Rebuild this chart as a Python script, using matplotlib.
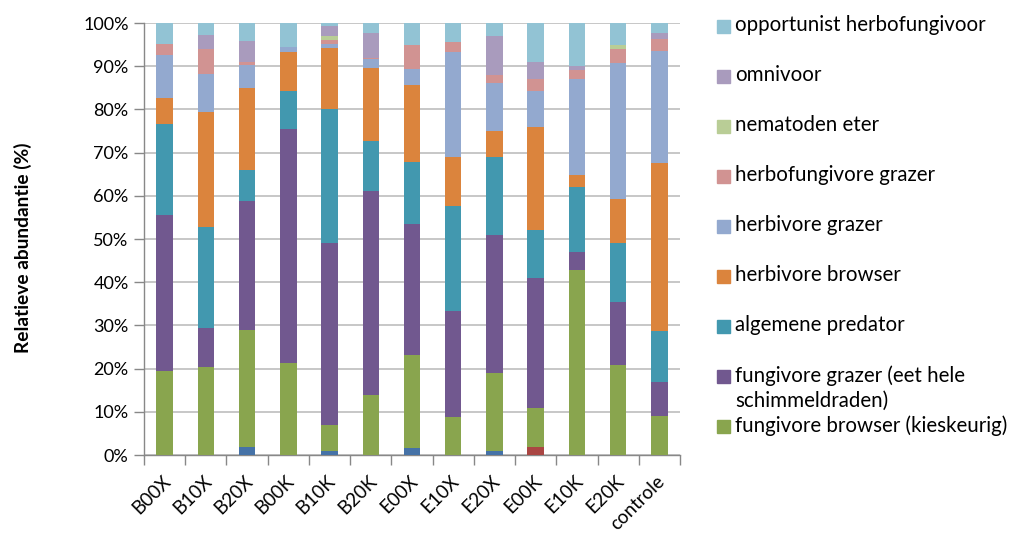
import matplotlib
matplotlib.use("Agg")
import matplotlib.pyplot as plt
from matplotlib.patches import Rectangle
from matplotlib.transforms import ScaledTranslation
import numpy as np

plt.rcParams['font.family'] = ['Lato', 'DejaVu Sans']

categories = ["B00X", "B10X", "B20X", "B00K", "B10K", "B20K", "E00X", "E10X",
              "E20X", "E00K", "E10K", "E20K", "controle"]

# segment values (% of total), bottom to top
onbekend_1 = [0, 0, 1.85, 0, 0.9, 0, 1.7, 0, 0.9, 0, 0, 0, 0]
onbekend_2 = [0, 0, 0, 0, 0, 0, 0, 0, 0, 1.85, 0, 0, 0]
fungivore_browser = [19.5, 20.4, 27.15, 21.2, 6.0, 13.9, 21.4, 8.8, 18.0, 8.95, 42.9, 20.8, 9.0]
fungivore_grazer = [36.1, 8.9, 29.9, 54.2, 42.1, 47.3, 30.4, 24.6, 32.1, 30.2, 4.2, 14.6, 7.9]
algemene_predator = [21.0, 23.5, 7.1, 8.9, 31.0, 11.6, 14.4, 24.3, 18.0, 11.1, 14.9, 13.6, 11.7]
herbivore_browser = [6.0, 26.7, 18.9, 9.1, 14.1, 16.7, 17.8, 11.3, 6.0, 23.9, 2.9, 10.3, 38.9]
herbivore_grazer = [10.0, 8.8, 5.3, 1.1, 1.1, 2.2, 3.7, 24.4, 11.1, 8.2, 22.1, 31.5, 26.0]
herbofungivore_grazer = [2.5, 5.7, 0.8, 0, 0.8, 0.2, 5.4, 2.1, 1.9, 2.8, 2.1, 3.1, 2.7]
nematoden_eter = [0, 0, 0, 0, 1.1, 0, 0, 0, 0, 0, 0, 1.1, 0]
omnivoor = [0, 3.2, 4.9, 0, 2.1, 5.8, 0, 0, 9.1, 4.0, 1.0, 0, 1.4]
opportunist_herbofungivoor = [4.9, 2.8, 4.1, 5.5, 0.8, 2.3, 5.2, 4.5, 2.9, 9.0, 9.9, 5.0, 2.4]

series = [
    (None, onbekend_1, "#4572A7"),
    (None, onbekend_2, "#AA4643"),
    ("fungivore browser (kieskeurig)", fungivore_browser, "#89A54E"),
    ("fungivore grazer (eet hele\nschimmeldraden)", fungivore_grazer, "#71588F"),
    ("algemene predator", algemene_predator, "#4298AF"),
    ("herbivore browser", herbivore_browser, "#DB843D"),
    ("herbivore grazer", herbivore_grazer, "#93A9CF"),
    ("herbofungivore grazer", herbofungivore_grazer, "#D19392"),
    ("nematoden eter", nematoden_eter, "#B9CD96"),
    ("omnivoor", omnivoor, "#A99BBD"),
    ("opportunist herbofungivoor", opportunist_herbofungivoor, "#92C3D4"),
]

W, H = 1015, 533
fig = plt.figure(figsize=(W / 100, H / 100), dpi=100)
ax = fig.add_axes([144 / W, 1 - 455 / H, (680 - 144) / W, (455 - 23) / H])

x = np.arange(len(categories))
bottom = np.zeros(len(categories))
for label, vals, col in series:
    v = np.array(vals, dtype=float)
    ax.bar(x, v, bottom=bottom, width=0.4, color=col, zorder=3, linewidth=0)
    bottom += v

ax.set_xlim(-0.5, len(categories) - 0.5)
ax.set_ylim(0, 100)
ax.set_yticks(np.arange(0, 101, 10))
ax.set_yticklabels([f"{t}%" for t in range(0, 101, 10)])
ax.yaxis.grid(True, color="#BEBEBE", linewidth=1.2, zorder=0)
ax.set_axisbelow(True)

ax.set_xticks(x)
ax.set_xticklabels(categories, rotation=45, ha="right", va="center",
                   rotation_mode="anchor", fontsize=13.5)
ax.tick_params(axis="x", length=0, pad=17)
for lab in ax.get_xticklabels():
    lab.set_transform(lab.get_transform() + ScaledTranslation(3 / 100, 0, fig.dpi_scale_trans))
ax.set_xticks(np.arange(-0.5, len(categories), 1), minor=True)
ax.tick_params(axis="x", which="minor", length=7, color="#888888", width=1)
ax.tick_params(axis="y", length=7, color="#888888", width=1, labelsize=13, pad=4)

for s in ["top", "right"]:
    ax.spines[s].set_visible(False)
for s in ["left", "bottom"]:
    ax.spines[s].set_color("#888888")
    ax.spines[s].set_linewidth(1)

fig.text(23 / W, 1 - 248 / H, "Relatieve abundantie (%)", rotation=90,
         ha="center", va="center", fontsize=13.8, fontweight="bold")

# legend (top series first, like the reference)
leg_items = [s for s in series if s[0] is not None][::-1]
for i, (label, vals, col) in enumerate(leg_items):
    yc = 26 + 50 * i
    fig.patches.append(Rectangle((717 / W, 1 - (yc + 6.5) / H), 12.5 / W, 12.5 / H,
                                 transform=fig.transFigure, color=col, figure=fig))
    fig.text(735 / W, 1 - (yc - 11) / H, label, ha="left", va="top",
             fontsize=14.8, linespacing=1.3)

fig.savefig("out.png", dpi=100)
